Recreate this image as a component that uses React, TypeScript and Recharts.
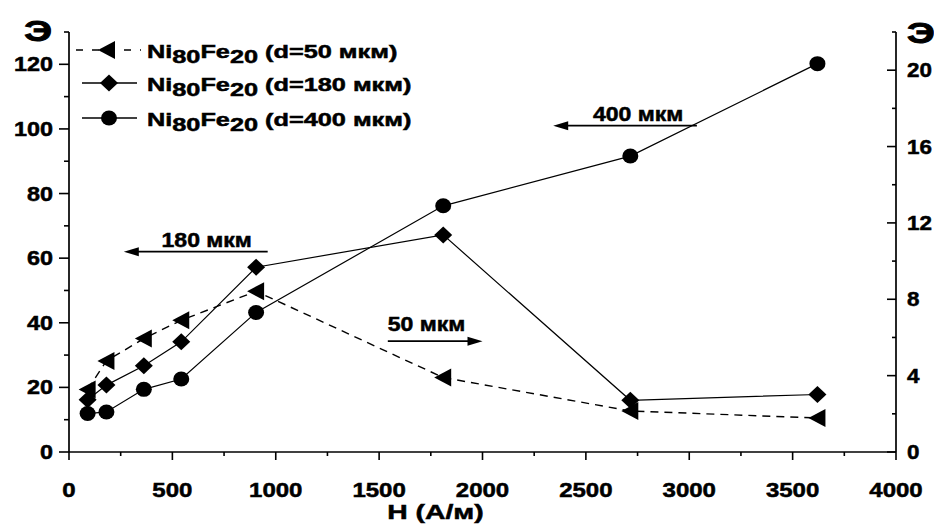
import React from 'react';
import { LineChart, Line, XAxis, YAxis, ReferenceLine, ReferenceDot, Legend } from 'recharts';

// ---- data ----
const hValues = [90, 181, 362, 543, 905, 1810, 2715, 3620];
const d50Values = [3.27, 4.77, 5.94, 6.9, 8.42, 3.9, 2.15, 1.78]; // right axis
const d180Values = [16.2, 20.7, 26.7, 34.1, 57.2, 67.2, 16.0, 17.8]; // left axis
const d400Values = [11.9, 12.4, 19.4, 22.6, 43.2, 76.2, 91.6, 120.2]; // left axis

const xTicks = [0, 250, 500, 750, 1000, 1250, 1500, 1750, 2000, 2250, 2500, 2750, 3000, 3250, 3500, 3750, 4000];
const leftTicks = [0, 10, 20, 30, 40, 50, 60, 70, 80, 90, 100, 110, 120, 130];
const rightTicks = [0, 2, 4, 6, 8, 10, 12, 14, 16, 18, 20, 22];

const seriesSizes = ['50', '180', '400'];
const annotationTexts = ['400 мкм', '180 мкм', '50 мкм'];
const annotationTail = [[3037, 101.0], [961, 62.0], [1542, 34.3]];
const annotationTip = [[2342, 101.0], [265, 62.0], [2000, 34.3]];
const annotationTextAt = [[2753, 102.6], [666, 63.6], [1729, 37.5]];

const d50 = hValues.map((x, i) => ({ x, y: d50Values[i] }));
const d180 = hValues.map((x, i) => ({ x, y: d180Values[i] }));
const d400 = hValues.map((x, i) => ({ x, y: d400Values[i] }));

const FONT = '"Liberation Sans", Arial, sans-serif';

function STxt({ x, y, sx, anchor = 'start', size, children, sw = 0.5 }: any) {
  return (
    <g transform={`translate(${x},${y}) scale(${sx},1)`}>
      <text
        x={0}
        y={0}
        textAnchor={anchor}
        fontFamily={FONT}
        fontWeight="bold"
        fontSize={size}
        fill="#000"
        stroke="#000"
        strokeWidth={sw}
      >
        {children}
      </text>
    </g>
  );
}

function Tri({ cx, cy }: any) {
  if (cx == null || cy == null) return <g />;
  return <polygon points={`${cx - 9},${cy} ${cx + 8},${cy - 9} ${cx + 8},${cy + 9}`} fill="#000" />;
}
function Dia({ cx, cy }: any) {
  if (cx == null || cy == null) return <g />;
  return <polygon points={`${cx - 9},${cy} ${cx},${cy - 8.5} ${cx + 9},${cy} ${cx},${cy + 8.5}`} fill="#000" />;
}
function Circ({ cx, cy }: any) {
  if (cx == null || cy == null) return <g />;
  return <ellipse cx={cx} cy={cy} rx={8} ry={7.5} fill="#000" />;
}

const LeftTick = (p: any) => {
  const v = p.payload.value;
  const major = v % 20 === 0;
  return (
    <g>
      <line x1={p.x} x2={p.x - (major ? 10 : 5)} y1={p.y} y2={p.y} stroke="#000" strokeWidth={1.6} />
      {major && (
        <STxt x={p.x - 16} y={p.y + 7} sx={1.17} anchor="end" size={20}>
          {v}
        </STxt>
      )}
    </g>
  );
};

const RightTick = (p: any) => {
  const v = p.payload.value;
  const major = v % 4 === 0;
  return (
    <g>
      <line x1={p.x} x2={p.x - (major ? 9 : 4)} y1={p.y} y2={p.y} stroke="#000" strokeWidth={1.6} />
      {major && (
        <STxt x={p.x + 11} y={p.y + 7} sx={1.12} anchor="start" size={20}>
          {v}
        </STxt>
      )}
    </g>
  );
};

const BottomTick = (p: any) => {
  const v = p.payload.value;
  const major = v % 500 === 0;
  return (
    <g>
      <line x1={p.x} x2={p.x} y1={p.y} y2={p.y + (major ? 8 : 4)} stroke="#000" strokeWidth={1.6} />
      {major && (
        <STxt x={p.x} y={p.y + 45} sx={1.2} anchor="middle" size={20}>
          {v}
        </STxt>
      )}
    </g>
  );
};

const ArrowShape = (p: any) => {
  const { x1, y1, x2, y2 } = p;
  if (x1 == null) return <g />;
  const dir = x2 > x1 ? 1 : -1;
  const len = 15;
  return (
    <g>
      <line x1={x1} y1={y1} x2={x2 - dir * len * 0.6} y2={y2} stroke="#000" strokeWidth={1.7} />
      <polygon points={`${x2},${y2} ${x2 - dir * len},${y2 - 4.5} ${x2 - dir * len},${y2 + 4.5}`} fill="#000" />
    </g>
  );
};

const renderLegend = () => {
  const markers = [Tri, Dia, Circ];
  const rows = [50, 83, 118];
  return (
    <svg width={430} height={140} style={{ display: 'block' }}>
      {seriesSizes.map((s, i) => {
        const M = markers[i];
        const y = rows[i];
        return (
          <g key={s}>
            {i === 0 ? (
              <line x1={76} x2={141} y1={y} y2={y} stroke="#000" strokeWidth={1.5} strokeDasharray="7 9" />
            ) : (
              <line x1={82} x2={137} y1={y} y2={y} stroke="#000" strokeWidth={1.3} />
            )}
            <M cx={i === 0 ? 107 : 109} cy={y} />
            <g transform={`translate(147,${y + 8}) scale(1.36,1)`}>
              <text
                x={0}
                y={0}
                fontFamily={FONT}
                fontWeight="bold"
                fontSize={18.6}
                fill="#000"
                stroke="#000"
                strokeWidth={0.5}
              >
                <tspan>Ni</tspan>
                <tspan dy={5}>80</tspan>
                <tspan dy={-5}>Fe</tspan>
                <tspan dy={5}>20</tspan>
                <tspan dy={-5}>{`\u00a0(d=${s} мкм)`}</tspan>
              </text>
            </g>
          </g>
        );
      })}
    </svg>
  );
};

export default function App() {
  return (
    <div style={{ position: 'absolute', left: 0, top: 0, width: 934, height: 527, background: '#fff' }}>
      <LineChart width={934} height={527} margin={{ top: 32, right: 0, bottom: 0, left: 0 }}>
        <XAxis
          dataKey="x"
          type="number"
          domain={[0, 4000]}
          ticks={xTicks}
          interval={0}
          height={75}
          tickSize={0}
          tickMargin={0}
          tickLine={false}
          axisLine={{ stroke: '#000', strokeWidth: 1.7 }}
          tick={BottomTick}
          label={(lp: any) => {
            const vb = lp.viewBox || { x: 69, y: 452, width: 827 };
            return (
              <STxt x={vb.x + vb.width / 2 - 47} y={vb.y + 67} sx={1.35} anchor="middle" size={21}>
                H (А/м)
              </STxt>
            );
          }}
        />
        <YAxis
          yAxisId="left"
          type="number"
          domain={[0, 130]}
          ticks={leftTicks}
          interval={0}
          width={69}
          tickSize={0}
          tickMargin={0}
          tickLine={false}
          axisLine={{ stroke: '#000', strokeWidth: 1.7 }}
          tick={LeftTick}
          label={(lp: any) => {
            const vb = lp.viewBox || { x: 0, y: 32 };
            return (
              <STxt x={vb.x + 38} y={vb.y + 9} sx={1.3} anchor="middle" size={30} sw={1}>
                Э
              </STxt>
            );
          }}
        />
        <YAxis
          yAxisId="right"
          orientation="right"
          type="number"
          domain={[0, 22]}
          ticks={rightTicks}
          interval={0}
          width={38}
          tickSize={0}
          tickMargin={0}
          tickLine={false}
          axisLine={{ stroke: '#000', strokeWidth: 1.7 }}
          tick={RightTick}
          label={(lp: any) => {
            const vb = lp.viewBox || { x: 896, y: 32 };
            return (
              <STxt x={vb.x + 11} y={vb.y + 11} sx={1.3} anchor="start" size={30} sw={1}>
                Э
              </STxt>
            );
          }}
        />
        <Legend
          layout="horizontal"
          verticalAlign="middle"
          align="center"
          wrapperStyle={{ position: 'absolute', top: 0, left: 0, width: 430, height: 140, margin: 0, padding: 0 }}
          content={renderLegend}
        />
        <Line
          yAxisId="right"
          data={d50}
          dataKey="y"
          name="d50"
          stroke="#000"
          strokeWidth={1.4}
          strokeDasharray="8 6"
          dot={(p: any) => <Tri key={`t${p.index}`} cx={p.cx} cy={p.cy} />}
          isAnimationActive={false}
          legendType="none"
        />
        <Line
          yAxisId="left"
          data={d180}
          dataKey="y"
          name="d180"
          stroke="#000"
          strokeWidth={1.2}
          dot={(p: any) => <Dia key={`d${p.index}`} cx={p.cx} cy={p.cy} />}
          isAnimationActive={false}
          legendType="none"
        />
        <Line
          yAxisId="left"
          data={d400}
          dataKey="y"
          name="d400"
          stroke="#000"
          strokeWidth={1.2}
          dot={(p: any) => <Circ key={`c${p.index}`} cx={p.cx} cy={p.cy} />}
          isAnimationActive={false}
          legendType="none"
        />
        {annotationTexts.map((t, i) => (
          <ReferenceLine
            key={`a${i}`}
            yAxisId="left"
            segment={[
              { x: annotationTail[i][0], y: annotationTail[i][1] },
              { x: annotationTip[i][0], y: annotationTip[i][1] },
            ]}
            shape={ArrowShape}
          />
        ))}
        {annotationTexts.map((t, i) => (
          <ReferenceDot
            key={`l${i}`}
            yAxisId="left"
            x={annotationTextAt[i][0]}
            y={annotationTextAt[i][1]}
            r={0}
            shape={(p: any) => (
              <STxt x={p.cx} y={p.cy} sx={1.18} anchor="middle" size={19.5}>
                {t}
              </STxt>
            )}
          />
        ))}
      </LineChart>
    </div>
  );
}
